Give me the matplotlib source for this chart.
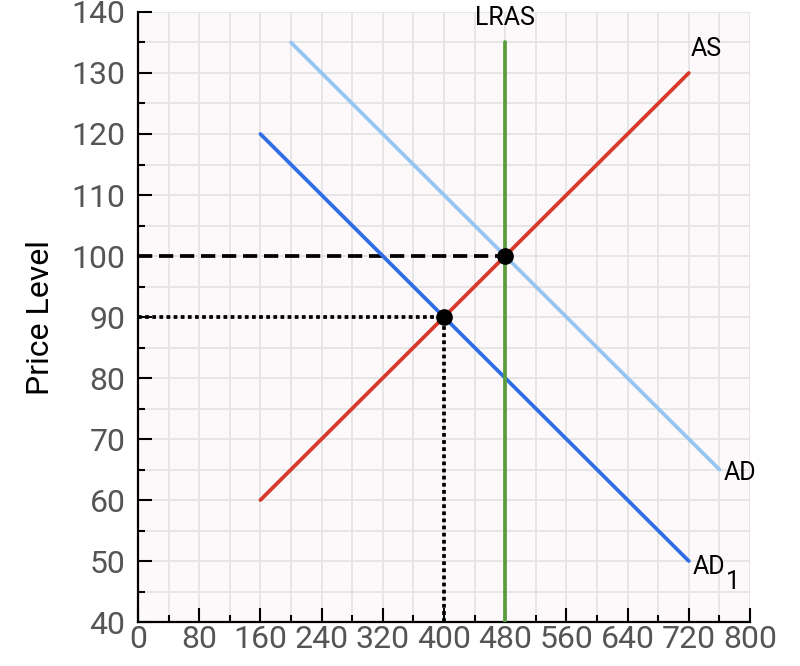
import matplotlib.pyplot as plt
from matplotlib.ticker import MultipleLocator

plt.rcParams['font.family'] = ['Roboto', 'DejaVu Sans']

# curves: (x start, y start), (x end, y end)
ad1_x = [160, 720]
ad1_y = [120, 50]
ad_x = [200, 760]
ad_y = [135, 65]
as_x = [160, 720]
as_y = [60, 130]
lras_x = [480, 480]
lras_y = [40, 135]

# equilibrium points
eq_x = [400, 480]
eq_y = [90, 100]

fig = plt.figure(figsize=(8, 6.66), dpi=100)
ax = fig.add_axes([0.1725, 0.066, 0.765, 0.916])
ax.set_facecolor('#fdf9fb')

ax.set_xlim(0, 800)
ax.set_ylim(40, 140)
ax.xaxis.set_major_locator(MultipleLocator(80))
ax.xaxis.set_minor_locator(MultipleLocator(40))
ax.yaxis.set_major_locator(MultipleLocator(10))
ax.yaxis.set_minor_locator(MultipleLocator(5))
ax.grid(True, which='both', color='#e4e4e4', lw=1.3, zorder=0)
ax.set_axisbelow(True)

for s in ['top', 'right']:
    ax.spines[s].set_visible(False)
for s in ['left', 'bottom']:
    ax.spines[s].set_linewidth(1.6)
    ax.spines[s].set_color('black')

ax.tick_params(which='major', direction='in', length=10, width=1.5,
               labelsize=23, labelcolor='#555555')
ax.tick_params(axis='y', which='major', pad=9)
ax.tick_params(axis='x', which='major', pad=2)
ax.tick_params(which='minor', direction='in', length=5, width=1.5)

# reference lines
ax.plot([0, eq_x[1]], [eq_y[1], eq_y[1]], color='black', lw=2.7,
        dashes=(3.8, 1.8), zorder=3)
ax.plot([0, eq_x[0]], [eq_y[0], eq_y[0]], color='black', lw=2.7,
        dashes=(1, 0.9), zorder=3)
ax.plot([eq_x[0], eq_x[0]], [40, eq_y[0]], color='black', lw=2.7,
        dashes=(1, 0.9), zorder=3)

ax.plot(ad_x, ad_y, color='#96c5f1', lw=2.7, zorder=4, solid_capstyle='round')
ax.plot(ad1_x, ad1_y, color='#2f6de6', lw=2.7, zorder=4, solid_capstyle='round')
ax.plot(as_x, as_y, color='#d8392b', lw=2.7, zorder=4, solid_capstyle='round')
ax.plot(lras_x, lras_y, color='#5b9c3c', lw=2.7, zorder=4, solid_capstyle='round')

ax.plot(eq_x, eq_y, 'o', color='black', ms=11, zorder=5, clip_on=False)

ax.text(480, 137.0, 'LRAS', fontsize=18, ha='center', va='bottom')
ax.text(722, 132, 'AS', fontsize=18, ha='left', va='bottom')
ax.text(766, 64.5, 'AD', fontsize=18, ha='left', va='center')
ax.text(725, 49.0, 'AD', fontsize=18, ha='left', va='center')
ax.text(768, 46.6, '1', fontsize=18, ha='left', va='center')

ax.set_ylabel('Price Level', fontsize=23, labelpad=12)

fig.savefig('out.png', dpi=100)
